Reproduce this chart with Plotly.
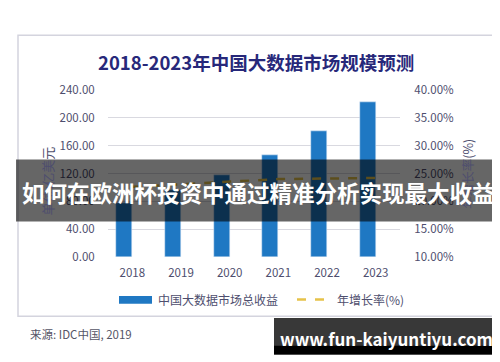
import plotly.graph_objects as go

years = ["2018", "2019", "2020", "2021", "2022", "2023"]
revenue = [78.0, 96.0, 117.0, 146.0, 181.0, 223.0]  # 亿美元
growth = [22.6, 23.1, 23.5, 24.0, 24.1, 24.2]  # %
left_ticks = [0, 40, 80, 120, 160, 200, 240]
right_ticks = [10, 15, 20, 25, 30, 35, 40]

W, H = 500, 362
FONT = "Noto Sans CJK SC"
BAR = "#1F78C3"
LINE = "#E6C24A"
TICK = "#4E4E6E"
CLEAR = "rgba(0,0,0,0)"

def px(x):
    return x / W

def py(y):
    return 1 - y / H

fig = go.Figure()
fig.add_trace(go.Bar(x=years, y=revenue, marker_color=BAR, width=0.33, offset=-0.33,
                     name="中国大数据市场总收益", showlegend=False))
fig.add_trace(go.Scatter(x=years, y=growth, yaxis="y2", mode="lines",
                         line=dict(color=LINE, width=2.5, dash="dash"),
                         name="年增长率(%)", showlegend=False))

shapes = [
    # panel
    dict(type="rect", xref="paper", yref="paper", x0=px(10), x1=px(486), y0=py(313), y1=py(19),
         line=dict(color="#D4D4DE", width=1.5), fillcolor="white", layer="below"),
    # legend swatches
    dict(type="rect", xref="paper", yref="paper", x0=px(111), x1=px(144), y0=py(300), y1=py(292),
         line=dict(width=0), fillcolor=BAR),
    dict(type="line", xref="paper", yref="paper", x0=px(289), x1=px(323), y0=py(295.5), y1=py(295.5),
         line=dict(color=LINE, width=2.5, dash="dash")),
    # banner overlay
    dict(type="rect", xref="paper", yref="paper", x0=px(8), x1=px(492), y0=py(214), y1=py(149),
         line=dict(width=0), fillcolor="rgba(0,0,0,0.6)", layer="above"),
    # watermark box
    dict(type="rect", xref="paper", yref="paper", x0=px(266), x1=px(492), y0=py(353), y1=py(315),
         line=dict(width=0), fillcolor="#383838", layer="above"),
    dict(type="rect", xref="paper", yref="paper", x0=px(266), x1=px(492), y0=py(353), y1=py(344),
         line=dict(width=0), fillcolor="#000000", layer="above"),
]

annotations = [
    dict(text="<b>2018-2023年中国大数据市场规模预测</b>", x=px(248), y=py(47), xref="paper", yref="paper",
         showarrow=False, font=dict(family=FONT, size=18.5, color="#27287A"), xanchor="center", yanchor="middle"),
    dict(text="单位:亿美元", x=px(39), y=py(172), xref="paper", yref="paper", textangle=-90,
         showarrow=False, font=dict(family=FONT, size=13, color=TICK), xanchor="center", yanchor="middle"),
    dict(text="年增长率(%)", x=px(460), y=py(164), xref="paper", yref="paper", textangle=-90,
         showarrow=False, font=dict(family=FONT, size=12.5, color=TICK), xanchor="center", yanchor="middle"),
    dict(text="中国大数据市场总收益", x=px(148), y=py(296), xref="paper", yref="paper",
         showarrow=False, font=dict(family=FONT, size=12, color=TICK), xanchor="left", yanchor="middle"),
    dict(text="年增长率(%)", x=px(327), y=py(296), xref="paper", yref="paper",
         showarrow=False, font=dict(family=FONT, size=12, color=TICK), xanchor="left", yanchor="middle"),
    dict(text="来源: IDC中国, 2019", x=px(20), y=py(332), xref="paper", yref="paper",
         showarrow=False, font=dict(family=FONT, size=11.5, color="#555566"), xanchor="left", yanchor="middle"),
    dict(text="<b>如何在欧洲杯投资中通过精准分析实现最大收益</b>", x=px(250), y=py(183), xref="paper", yref="paper",
         showarrow=False, font=dict(family=FONT, size=22.5, color="white"), xanchor="center", yanchor="middle"),
    dict(text="<b>www.fun-kaiyuntiyu.com</b>", x=px(378), y=py(336), xref="paper", yref="paper",
         showarrow=False, font=dict(family=FONT, size=17, color="white"), xanchor="center", yanchor="middle"),
]

fig.update_layout(
    width=W, height=H,
    margin=dict(l=0, r=0, t=0, b=0),
    paper_bgcolor="white", plot_bgcolor="white",
    showlegend=False,
    bargap=0,
    font=dict(family=FONT, color=TICK),
    xaxis=dict(domain=[px(100), px(392)], type="category", range=[-0.5, 5.5], autorange=False,
               showgrid=False, showline=False,
               ticks="outside", ticklen=5, tickcolor=CLEAR, tickfont=dict(size=11.5, color=TICK)),
    yaxis=dict(domain=[py(251), py(76.5)], range=[0, 240], tickvals=left_ticks,
               ticktext=[f"{v:.2f}" for v in left_ticks], showgrid=True, gridcolor="#D9D9E0",
               gridwidth=1, zeroline=False, showline=False, tickfont=dict(size=11.5, color=TICK),
               ticks="outside", ticklen=10, tickcolor=CLEAR),
    yaxis2=dict(domain=[py(251), py(76.5)], range=[10, 40], tickvals=right_ticks,
                ticktext=[f"{v:.2f}%" for v in right_ticks], overlaying="y", side="right",
                anchor="x", showgrid=False, zeroline=False, showline=False,
                tickfont=dict(size=11.5, color=TICK), ticks="outside", ticklen=11, tickcolor=CLEAR),
    shapes=shapes,
    annotations=annotations,
)

fig.write_html("out.html")
